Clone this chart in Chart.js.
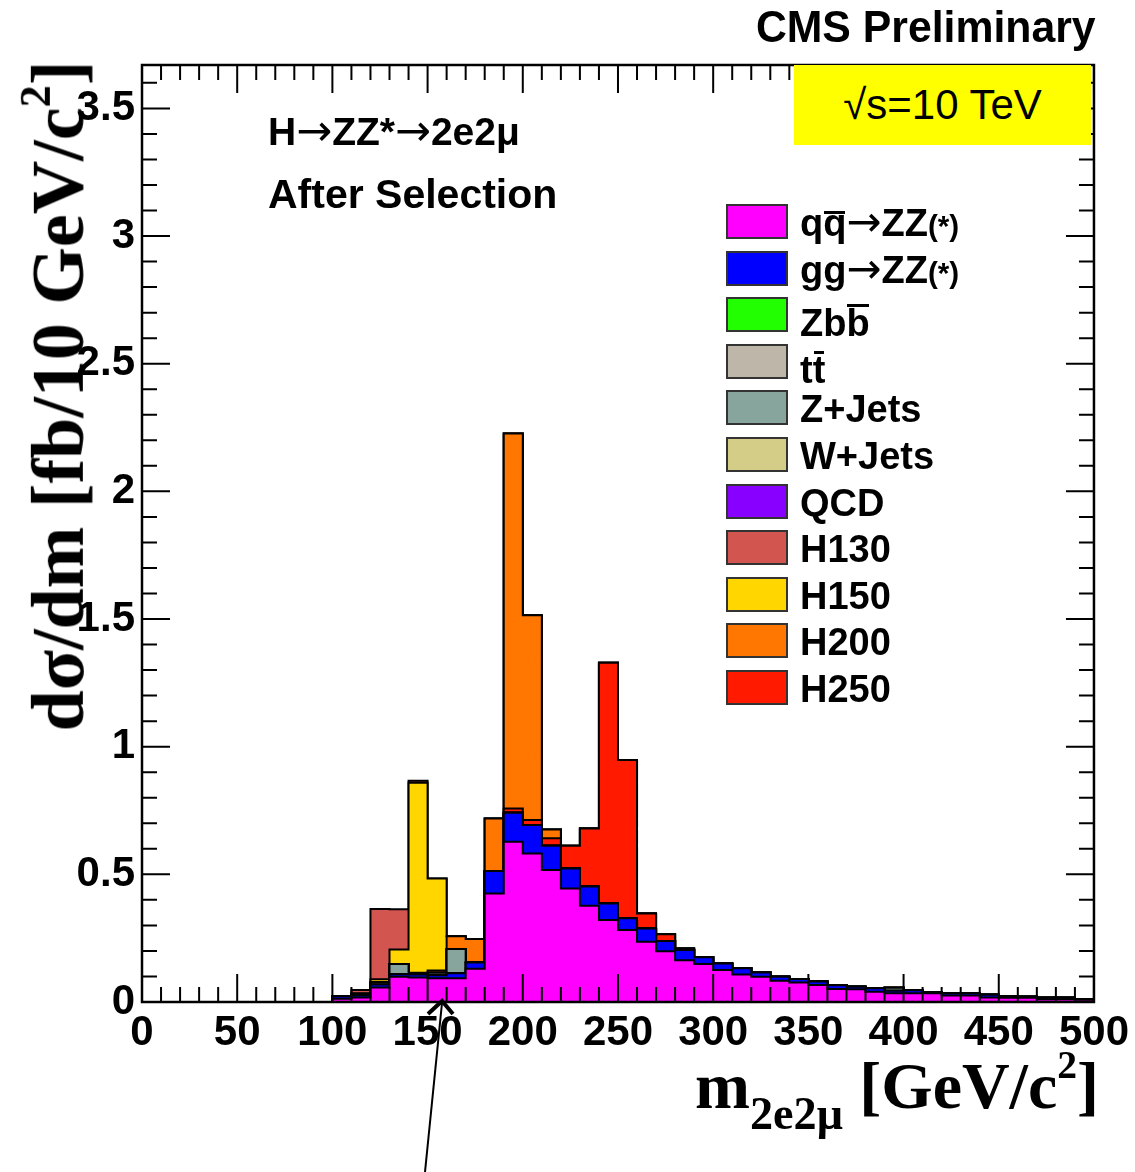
<!DOCTYPE html>
<html>
<head>
<meta charset="utf-8">
<script src="https://cdn.jsdelivr.net/npm/chart.js@4.4.0/dist/chart.umd.min.js"></script>
<style>
	body{margin:0;background:#fff;}
	#wrap{position:relative;width:1135px;height:1172px;overflow:hidden;}
	#wrap canvas{position:absolute;left:0;top:0;}
	.sans{position:absolute;font-family:"Liberation Sans",Arial,sans-serif;font-weight:bold;color:#000;white-space:nowrap;line-height:1;}
	.serif{position:absolute;font-family:"Liberation Serif","Times New Roman",serif;font-weight:bold;color:#000;white-space:nowrap;line-height:1;}
	.arr{font-family:"DejaVu Sans",sans-serif;font-weight:normal;font-size:1.1em;line-height:0.8;}
	.ov,.ovq{position:relative;}
	.ov::before,.ovq::before{content:'';position:absolute;left:1px;right:1px;height:3px;background:#000;}
	.ov::before{top:2px;}
	.ovq::before{top:9px;}
	.st{font-size:0.78em;}
	#legend .row{position:absolute;left:0;height:34px;}
	#legend .box{position:absolute;left:0;top:0;width:58px;height:31px;border:2px solid #333;}
	#legend .lab{position:absolute;left:74px;top:0;font-size:38px;}
	#energy{position:absolute;left:794px;top:65px;width:297px;height:80px;background:#ffff00;font-family:"Liberation Sans",Arial,sans-serif;font-size:42px;line-height:80px;text-align:center;color:#000;}
</style>
</head>
<body>
<div id="wrap">
	<canvas id="myChart" width="1135" height="1172"></canvas>
	<div class="sans" style="right:39px;top:4px;font-size:45px;transform:scaleX(0.95);transform-origin:right top;">CMS Preliminary</div>
	<div id="energy">√s=10 TeV</div>
	<div class="sans" style="left:268px;top:112px;font-size:39px;">H<span class="arr">→</span>ZZ*<span class="arr">→</span>2e2μ</div>
	<div class="sans" style="left:268px;top:174px;font-size:41px;">After Selection</div>
	<div id="legend" class="sans" style="left:726px;top:204px;"></div>
	<div class="serif" style="left:54px;top:396px;font-size:74px;transform:translate(-50%,-50%) rotate(-90deg);">dσ/dm [fb/10 GeV/c<span style="font-size:0.6em;vertical-align:0.75em;">2</span>]</div>
	<div class="serif" style="right:36px;top:1046px;font-size:66px;">m<span style="font-size:0.7em;vertical-align:-0.46em;">2e2μ</span> [GeV/c<span style="font-size:0.6em;vertical-align:0.75em;">2</span>]</div>
	<svg style="position:absolute;left:0;top:0;" width="1135" height="1172">
		<line x1="425" y1="1172" x2="442" y2="1003" stroke="#000" stroke-width="2"/>
		<polyline points="428,1014 442,1001 453,1014" fill="none" stroke="#000" stroke-width="4"/>
	</svg>
</div>
<script>
// bin low edges, GeV (10 GeV bins up to 500)
const binLow = [100,110,120,130,140,150,160,170,180,190,200,210,220,230,240,250,260,270,280,290,300,310,320,330,340,350,360,370,380,390,400,410,420,430,440,450,460,470,480,490];
const binHigh = 500;

// fb / 10 GeV per process
const qqZZ  = [0.013,0.018,0.057,0.099,0.096,0.093,0.093,0.130,0.425,0.628,0.582,0.517,0.445,0.377,0.321,0.282,0.236,0.199,0.164,0.149,0.125,0.108,0.099,0.083,0.076,0.067,0.051,0.050,0.040,0.034,0.034,0.034,0.025,0.025,0.018,0.017,0.017,0.011,0.011,0.009];
const ggZZ  = [0.010,0.008,0.012,0.010,0.012,0.012,0.020,0.025,0.088,0.113,0.111,0.095,0.078,0.075,0.065,0.046,0.052,0.040,0.040,0.026,0.026,0.024,0.017,0.016,0.014,0.013,0.015,0.010,0.014,0.010,0.012,0.005,0.009,0.009,0.010,0.005,0.004,0.006,0.006,0.003];
const zbb   = [0,0,0,0,0,0,0,0,0,0,0,0,0,0,0,0,0,0,0,0,0,0,0,0,0,0,0,0,0,0,0,0,0,0,0,0,0,0,0,0];
const ttbar = [0,0,0,0,0,0,0,0,0,0,0,0,0,0,0,0,0,0,0,0,0,0,0,0,0,0,0,0,0,0,0,0,0,0,0,0,0,0,0,0];
const zJets = [0,0.006,0.008,0.040,0,0.010,0.095,0,0,0,0,0,0,0,0,0,0,0,0,0,0,0,0,0,0,0,0,0,0,0.012,0,0,0,0,0,0,0,0,0,0];
const wJets = [0,0,0,0,0,0,0,0,0,0,0,0,0,0,0,0,0,0,0,0,0,0,0,0,0,0,0,0,0,0,0,0,0,0,0,0,0,0,0,0];
const qcd   = [0,0,0,0,0,0,0,0,0,0,0,0,0,0,0,0,0,0,0,0,0,0,0,0,0,0,0,0,0,0,0,0,0,0,0,0,0,0,0,0];
const h250  = [0,0,0,0,0,0,0,0,0,0.017,0.020,0.029,0.089,0.228,0.943,0.620,0.059,0.026,0.006,0,0,0,0,0,0,0,0,0,0,0,0,0,0,0,0,0,0,0,0,0];
const h200  = [0,0,0,0,0.007,0.008,0.050,0.092,0.206,1.469,0.802,0.035,0,0,0,0,0,0,0,0,0,0,0,0,0,0,0,0,0,0,0,0,0,0,0,0,0,0,0,0];
const h150  = [0,0,0.012,0.057,0.744,0.361,0,0,0,0,0,0,0,0,0,0,0,0,0,0,0,0,0,0,0,0,0,0,0,0,0,0,0,0,0,0,0,0,0,0];
const h130  = [0,0.015,0.275,0.157,0.008,0,0,0,0,0,0,0,0,0,0,0,0,0,0,0,0,0,0,0,0,0,0,0,0,0,0,0,0,0,0,0,0,0,0,0];

const xTicks = [0,50,100,150,200,250,300,350,400,450,500];
const yTicks = [0,0.5,1,1.5,2,2.5,3,3.5];
const yMax = 3.67;

// legend order (as in the picture)
const legendNames = ['qq̄→ZZ(*)','gg→ZZ(*)','Zbb̄','tt̄','Z+Jets','W+Jets','QCD','H130','H150','H200','H250'];
const legendHtml = [
	'q<span class="ovq">q</span><span class="arr">→</span>ZZ<span class="st">(*)</span>',
	'gg<span class="arr">→</span>ZZ<span class="st">(*)</span>',
	'Zb<span class="ov">b</span>',
	't<span class="ov">t</span>',
	'Z+Jets','W+Jets','QCD','H130','H150','H200','H250'];
const legendShift = [0,0,7,7,0,0,0,0,0,0,0];
const legendColors = ['#ff00ff','#0000ff','#22ff00','#bfb6aa','#88a59d','#d4cd88','#8800ff','#d25550','#ffd600','#ff7600','#ff1a00'];
const legendValues = [qqZZ,ggZZ,zbb,ttbar,zJets,wJets,qcd,h130,h150,h200,h250];

// stacking order, bottom to top
const stackOrder = ['qq̄→ZZ(*)','gg→ZZ(*)','Zbb̄','tt̄','Z+Jets','W+Jets','QCD','H250','H200','H150','H130'];


let running = binLow.map(() => 0);
const datasets = stackOrder.map(name => {
	const k = legendNames.indexOf(name);
	running = running.map((s, i) => s + legendValues[k][i]);
	let pts = [{x: binLow[0], y: 0}];
	for (let i = 0; i < binLow.length; i++) pts.push({x: binLow[i], y: running[i]});
	pts.push({x: binHigh, y: running[running.length - 1]});
	pts.push({x: binHigh, y: 0});
	return {
		label: name,
		data: pts,
		stepped: true,
		fill: 'origin',
		backgroundColor: legendColors[k],
		borderColor: '#000',
		borderWidth: 2,
		pointRadius: 0,
		tension: 0
	};
});

// legend boxes
const legend = document.getElementById('legend');
for (let i = 0; i < legendNames.length; i++) {
	let row = document.createElement('div');
	row.className = 'row';
	row.style.top = (i * 46.6) + 'px';
	row.innerHTML = '<div class="box" style="background:' + legendColors[i] + '"></div><div class="lab" style="top:' + legendShift[i] + 'px">' + legendHtml[i] + '</div>';
	legend.appendChild(row);
}

const tickFont = {family: '"Liberation Sans", Arial, sans-serif', size: 42, weight: 'bold'};

const frameTicks = {
	id: 'frameTicks',
	afterDraw(chart){
		const {ctx, chartArea: a, scales: {x, y}} = chart;
		ctx.save();
		ctx.strokeStyle = '#000';
		ctx.lineWidth = 2;
		ctx.beginPath();
		for (let v = 0; v <= 500; v += 10) {
			let px = x.getPixelForValue(v);
			let len = v % 50 === 0 ? 28 : 15;
			ctx.moveTo(px, a.bottom); ctx.lineTo(px, a.bottom - len);
			ctx.moveTo(px, a.top); ctx.lineTo(px, a.top + len);
		}
		for (let j = 0; j <= 36; j++) {
			let py = y.getPixelForValue(j / 10);
			let len = j % 5 === 0 ? 28 : 15;
			ctx.moveTo(a.left, py); ctx.lineTo(a.left + len, py);
			ctx.moveTo(a.right, py); ctx.lineTo(a.right - len, py);
		}
		ctx.stroke();
		ctx.lineWidth = 2.5;
		ctx.strokeRect(a.left, a.top, a.right - a.left, a.bottom - a.top);
		ctx.restore();
	}
};

const ctx = document.getElementById('myChart');
new Chart(ctx, {
	type: 'line',
	data: {datasets: datasets},
	plugins: [frameTicks],
	options: {
		responsive: false,
		animation: false,
		layout: {padding: {top: 65, right: 39, left: 0, bottom: 0}},
		plugins: {legend: {display: false}, tooltip: {enabled: false}},
		scales: {
			x: {
				type: 'linear', min: 0, max: 500,
				afterBuildTicks: s => { s.ticks = xTicks.map(v => ({value: v})); },
				ticks: {font: tickFont, color: '#000', padding: 6, maxRotation: 0, autoSkip: false, callback: v => String(v)},
				grid: {display: false, drawTicks: false},
				border: {display: false},
				afterFit: s => { s.height = 170; }
			},
			y: {
				min: 0, max: yMax,
				afterBuildTicks: s => { s.ticks = yTicks.map(v => ({value: v})); },
				ticks: {font: tickFont, color: '#000', padding: 7, callback: v => String(v)},
				grid: {display: false, drawTicks: false},
				border: {display: false},
				afterFit: s => { s.width = 142; }
			}
		}
	}
});
</script>
</body>
</html>
